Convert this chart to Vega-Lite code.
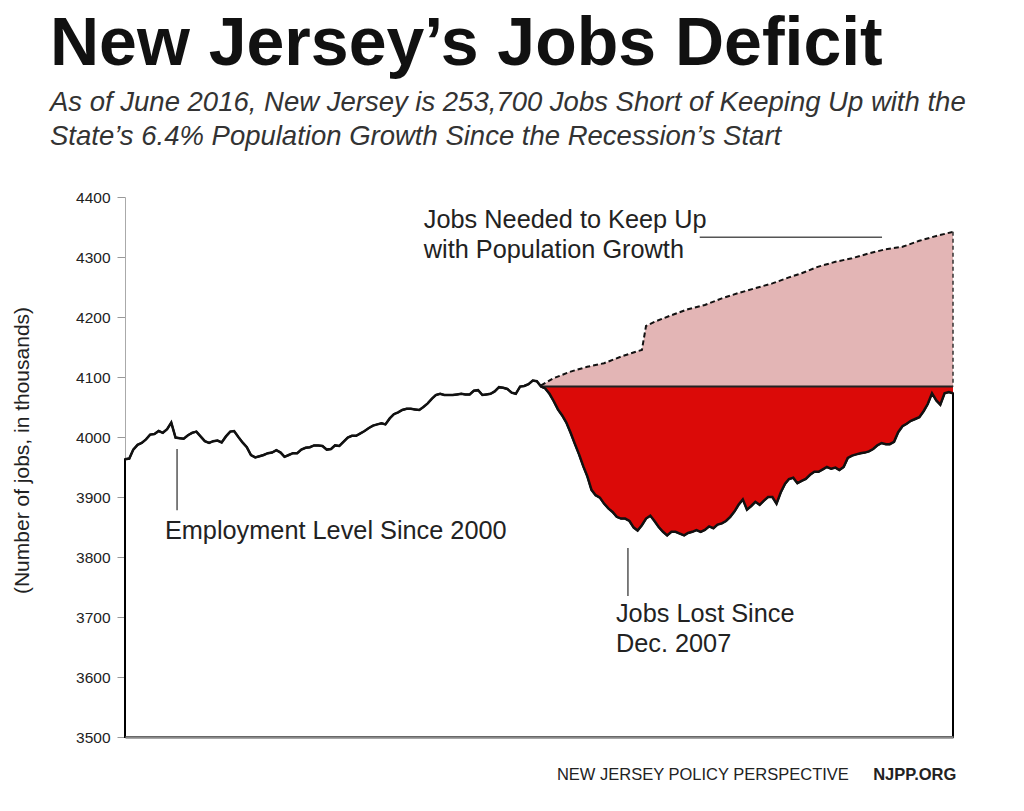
{
  "$schema": "https://vega.github.io/schema/vega-lite/v6.json",
  "autosize": "none",
  "width": 828,
  "height": 540,
  "padding": {"left": 125, "top": 197, "right": 71, "bottom": 74},
  "background": "white",
  "config": {"view": {"stroke": null}},
  "title": {
    "text": "New Jersey’s Jobs Deficit",
    "subtitle": ["As of June 2016, New Jersey is 253,700 Jobs Short of Keeping Up with the", "State’s 6.4% Population Growth Since the Recession’s Start"],
    "anchor": "start", "frame": "group", "dx": -75, "offset": 40,
    "font": "Liberation Sans", "fontSize": 68, "fontWeight": "bold", "color": "#111",
    "subtitleFont": "Liberation Sans", "subtitleFontSize": 27.5, "subtitleFontStyle": "italic",
    "subtitleColor": "#333", "subtitleLineHeight": 34, "subtitlePadding": 10
  },
  "datasets": {
    "employment": [
      {"date":"2000-01-01","jobs":3963},{"date":"2000-02-01","jobs":3964},{"date":"2000-03-01","jobs":3979},{"date":"2000-04-01","jobs":3987},{"date":"2000-05-01","jobs":3990},{"date":"2000-06-01","jobs":3996},{"date":"2000-07-01","jobs":4004},{"date":"2000-08-01","jobs":4005},{"date":"2000-09-01","jobs":4010},{"date":"2000-10-01","jobs":4007},{"date":"2000-11-01","jobs":4013},{"date":"2000-12-01","jobs":4024},
      {"date":"2001-01-01","jobs":3999},{"date":"2001-02-01","jobs":3998},{"date":"2001-03-01","jobs":3997},{"date":"2001-04-01","jobs":4003},{"date":"2001-05-01","jobs":4007},{"date":"2001-06-01","jobs":4009},{"date":"2001-07-01","jobs":4001},{"date":"2001-08-01","jobs":3993},{"date":"2001-09-01","jobs":3990},{"date":"2001-10-01","jobs":3993},{"date":"2001-11-01","jobs":3994},{"date":"2001-12-01","jobs":3991},
      {"date":"2002-01-01","jobs":4001},{"date":"2002-02-01","jobs":4009},{"date":"2002-03-01","jobs":4010},{"date":"2002-04-01","jobs":4000},{"date":"2002-05-01","jobs":3991},{"date":"2002-06-01","jobs":3983},{"date":"2002-07-01","jobs":3970},{"date":"2002-08-01","jobs":3966},{"date":"2002-09-01","jobs":3968},{"date":"2002-10-01","jobs":3970},{"date":"2002-11-01","jobs":3973},{"date":"2002-12-01","jobs":3974},
      {"date":"2003-01-01","jobs":3978},{"date":"2003-02-01","jobs":3974},{"date":"2003-03-01","jobs":3967},{"date":"2003-04-01","jobs":3970},{"date":"2003-05-01","jobs":3973},{"date":"2003-06-01","jobs":3973},{"date":"2003-07-01","jobs":3979},{"date":"2003-08-01","jobs":3982},{"date":"2003-09-01","jobs":3983},{"date":"2003-10-01","jobs":3986},{"date":"2003-11-01","jobs":3986},{"date":"2003-12-01","jobs":3985},
      {"date":"2004-01-01","jobs":3979},{"date":"2004-02-01","jobs":3980},{"date":"2004-03-01","jobs":3986},{"date":"2004-04-01","jobs":3985},{"date":"2004-05-01","jobs":3992},{"date":"2004-06-01","jobs":3999},{"date":"2004-07-01","jobs":4002},{"date":"2004-08-01","jobs":4002},{"date":"2004-09-01","jobs":4006},{"date":"2004-10-01","jobs":4010},{"date":"2004-11-01","jobs":4015},{"date":"2004-12-01","jobs":4019},
      {"date":"2005-01-01","jobs":4021},{"date":"2005-02-01","jobs":4023},{"date":"2005-03-01","jobs":4021},{"date":"2005-04-01","jobs":4031},{"date":"2005-05-01","jobs":4038},{"date":"2005-06-01","jobs":4041},{"date":"2005-07-01","jobs":4045},{"date":"2005-08-01","jobs":4047},{"date":"2005-09-01","jobs":4047},{"date":"2005-10-01","jobs":4046},{"date":"2005-11-01","jobs":4045},{"date":"2005-12-01","jobs":4050},
      {"date":"2006-01-01","jobs":4056},{"date":"2006-02-01","jobs":4064},{"date":"2006-03-01","jobs":4070},{"date":"2006-04-01","jobs":4072},{"date":"2006-05-01","jobs":4070},{"date":"2006-06-01","jobs":4070},{"date":"2006-07-01","jobs":4070},{"date":"2006-08-01","jobs":4071},{"date":"2006-09-01","jobs":4072},{"date":"2006-10-01","jobs":4071},{"date":"2006-11-01","jobs":4071},{"date":"2006-12-01","jobs":4077},
      {"date":"2007-01-01","jobs":4078},{"date":"2007-02-01","jobs":4070},{"date":"2007-03-01","jobs":4071},{"date":"2007-04-01","jobs":4072},{"date":"2007-05-01","jobs":4076},{"date":"2007-06-01","jobs":4083},{"date":"2007-07-01","jobs":4082},{"date":"2007-08-01","jobs":4080},{"date":"2007-09-01","jobs":4074},{"date":"2007-10-01","jobs":4072},{"date":"2007-11-01","jobs":4084},{"date":"2007-12-01","jobs":4085},
      {"date":"2008-01-01","jobs":4088},{"date":"2008-02-01","jobs":4094},{"date":"2008-03-01","jobs":4093},{"date":"2008-04-01","jobs":4084},{"date":"2008-05-01","jobs":4081},{"date":"2008-06-01","jobs":4072},{"date":"2008-07-01","jobs":4060},{"date":"2008-08-01","jobs":4046},{"date":"2008-09-01","jobs":4036},{"date":"2008-10-01","jobs":4024},{"date":"2008-11-01","jobs":4007},{"date":"2008-12-01","jobs":3989},
      {"date":"2009-01-01","jobs":3971},{"date":"2009-02-01","jobs":3951},{"date":"2009-03-01","jobs":3935},{"date":"2009-04-01","jobs":3912},{"date":"2009-05-01","jobs":3903},{"date":"2009-06-01","jobs":3899},{"date":"2009-07-01","jobs":3889},{"date":"2009-08-01","jobs":3881},{"date":"2009-09-01","jobs":3875},{"date":"2009-10-01","jobs":3867},{"date":"2009-11-01","jobs":3864},{"date":"2009-12-01","jobs":3864},
      {"date":"2010-01-01","jobs":3860},{"date":"2010-02-01","jobs":3849},{"date":"2010-03-01","jobs":3844},{"date":"2010-04-01","jobs":3853},{"date":"2010-05-01","jobs":3864},{"date":"2010-06-01","jobs":3869},{"date":"2010-07-01","jobs":3860},{"date":"2010-08-01","jobs":3850},{"date":"2010-09-01","jobs":3842},{"date":"2010-10-01","jobs":3836},{"date":"2010-11-01","jobs":3842},{"date":"2010-12-01","jobs":3842},
      {"date":"2011-01-01","jobs":3839},{"date":"2011-02-01","jobs":3836},{"date":"2011-03-01","jobs":3840},{"date":"2011-04-01","jobs":3842},{"date":"2011-05-01","jobs":3845},{"date":"2011-06-01","jobs":3842},{"date":"2011-07-01","jobs":3845},{"date":"2011-08-01","jobs":3851},{"date":"2011-09-01","jobs":3848},{"date":"2011-10-01","jobs":3854},{"date":"2011-11-01","jobs":3856},{"date":"2011-12-01","jobs":3860},
      {"date":"2012-01-01","jobs":3867},{"date":"2012-02-01","jobs":3876},{"date":"2012-03-01","jobs":3887},{"date":"2012-04-01","jobs":3896},{"date":"2012-05-01","jobs":3879},{"date":"2012-06-01","jobs":3885},{"date":"2012-07-01","jobs":3892},{"date":"2012-08-01","jobs":3887},{"date":"2012-09-01","jobs":3894},{"date":"2012-10-01","jobs":3900},{"date":"2012-11-01","jobs":3900},{"date":"2012-12-01","jobs":3889},
      {"date":"2013-01-01","jobs":3908},{"date":"2013-02-01","jobs":3922},{"date":"2013-03-01","jobs":3930},{"date":"2013-04-01","jobs":3932},{"date":"2013-05-01","jobs":3923},{"date":"2013-06-01","jobs":3927},{"date":"2013-07-01","jobs":3930},{"date":"2013-08-01","jobs":3937},{"date":"2013-09-01","jobs":3942},{"date":"2013-10-01","jobs":3942},{"date":"2013-11-01","jobs":3946},{"date":"2013-12-01","jobs":3950},
      {"date":"2014-01-01","jobs":3947},{"date":"2014-02-01","jobs":3949},{"date":"2014-03-01","jobs":3945},{"date":"2014-04-01","jobs":3950},{"date":"2014-05-01","jobs":3965},{"date":"2014-06-01","jobs":3969},{"date":"2014-07-01","jobs":3971},{"date":"2014-08-01","jobs":3973},{"date":"2014-09-01","jobs":3974},{"date":"2014-10-01","jobs":3976},{"date":"2014-11-01","jobs":3980},{"date":"2014-12-01","jobs":3986},
      {"date":"2015-01-01","jobs":3990},{"date":"2015-02-01","jobs":3988},{"date":"2015-03-01","jobs":3988},{"date":"2015-04-01","jobs":3992},{"date":"2015-05-01","jobs":4008},{"date":"2015-06-01","jobs":4018},{"date":"2015-07-01","jobs":4022},{"date":"2015-08-01","jobs":4027},{"date":"2015-09-01","jobs":4030},{"date":"2015-10-01","jobs":4033},{"date":"2015-11-01","jobs":4043},{"date":"2015-12-01","jobs":4055},
      {"date":"2016-01-01","jobs":4073},{"date":"2016-02-01","jobs":4061},{"date":"2016-03-01","jobs":4054},{"date":"2016-04-01","jobs":4073},{"date":"2016-05-01","jobs":4075},{"date":"2016-06-01","jobs":4073}
    ],
    "needed": [
      {"date":"2008-04-01","jobs":4086},{"date":"2008-07-01","jobs":4098},{"date":"2008-11-01","jobs":4109},{"date":"2009-03-01","jobs":4117},{"date":"2009-07-01","jobs":4123},{"date":"2009-11-01","jobs":4134},{"date":"2010-03-01","jobs":4143},{"date":"2010-04-01","jobs":4145},{"date":"2010-05-01","jobs":4185},{"date":"2010-07-01","jobs":4192},{"date":"2010-11-01","jobs":4203},{"date":"2011-03-01","jobs":4213},{"date":"2011-07-01","jobs":4220},{"date":"2011-11-01","jobs":4231},{"date":"2012-03-01","jobs":4240},{"date":"2012-07-01","jobs":4248},{"date":"2012-11-01","jobs":4256},{"date":"2013-03-01","jobs":4266},{"date":"2013-06-01","jobs":4273},{"date":"2013-10-01","jobs":4284},{"date":"2014-02-01","jobs":4292},{"date":"2014-06-01","jobs":4298},{"date":"2014-10-01","jobs":4306},{"date":"2015-02-01","jobs":4313},{"date":"2015-06-01","jobs":4317},{"date":"2015-10-01","jobs":4327},{"date":"2016-02-01","jobs":4335},{"date":"2016-06-01","jobs":4342}
    ],
    "leaders": [
      {"date":"2001-01-12","date2":"2001-01-12","jobs":3980,"jobs2":3878},
      {"date":"2009-12-21","date2":"2009-12-21","jobs":3815,"jobs2":3735},
      {"date":"2011-05-25","date2":"2015-01-04","jobs":4333,"jobs2":4333}
    ],
    "notes": [
      {"date":"2000-10-16","jobs":3830,"label":"Employment Level Since 2000"},
      {"date":"2009-09-25","jobs":3692,"label":"Jobs Lost Since"},
      {"date":"2009-09-25","jobs":3642,"label":"Dec. 2007"},
      {"date":"2005-12-04","jobs":4348,"label":"Jobs Needed to Keep Up"},
      {"date":"2005-12-04","jobs":4298,"label":"with Population Growth"}
    ],
    "credit": [{"date":"2008-07-25","jobs":3428,"label":"NEW JERSEY POLICY PERSPECTIVE"}],
    "site": [{"date":"2014-11-01","jobs":3428,"label":"NJPP.ORG"}]
  },
  "encoding": {
    "x": {
      "field": "date", "type": "temporal",
      "scale": {"type": "utc", "nice": false, "domain": [{"year": 2000, "month": 1, "date": 1, "utc": true}, {"year": 2016, "month": 6, "date": 1, "utc": true}]},
      "axis": {"labels": false, "ticks": false, "title": null, "grid": false, "domainColor": "#8a8a8a", "domainWidth": 2.5, "zindex": 1}
    },
    "y": {
      "field": "jobs", "type": "quantitative",
      "scale": {"domain": [3500, 4400], "zero": false, "nice": false},
      "axis": {
        "values": [3500, 3600, 3700, 3800, 3900, 4000, 4100, 4200, 4300, 4400],
        "format": "d", "grid": false,
        "labelFont": "Liberation Sans", "labelFontSize": 15.5, "labelColor": "#222", "labelPadding": 7,
        "tickColor": "#999", "tickSize": 8, "domainColor": "#aaa",
        "title": "(Number of jobs, in thousands)",
        "titleFont": "Liberation Sans", "titleFontSize": 21, "titleFontWeight": "normal", "titleColor": "#222",
        "titleX": -103, "titleY": 253, "titleAngle": -90, "titleAlign": "center", "titleBaseline": "middle"
      }
    }
  },
  "layer": [
    {"data": {"name": "employment"}, "mark": {"type": "area", "fill": "white", "stroke": "black", "strokeWidth": 2}, "encoding": {"y2": {"datum": 3500}}},
    {"data": {"name": "needed"}, "mark": {"type": "area", "fill": "#e3b5b5"}, "encoding": {"y2": {"datum": 4084}}},
    {"data": {"name": "employment"}, "transform": [{"filter": {"field": "date", "gte": {"year": 2008, "month": 4, "date": 1, "utc": true}}}],
     "mark": {"type": "area", "fill": "#db0a08"}, "encoding": {"y2": {"datum": 4084}}},
    {"data": {"name": "needed"}, "mark": {"type": "line", "color": "#222", "strokeWidth": 2}, "encoding": {"y": {"datum": 4084}}},
    {"data": {"name": "needed"}, "mark": {"type": "line", "color": "#111", "strokeWidth": 2, "strokeDash": [5, 3]}},
    {"data": {"name": "needed"}, "transform": [{"filter": {"field": "date", "gte": {"year": 2016, "month": 6, "date": 1, "utc": true}}}],
     "mark": {"type": "rule", "color": "#333", "strokeWidth": 1.5, "strokeDash": [4, 3]}, "encoding": {"y2": {"datum": 4084}}},
    {"data": {"name": "employment"}, "mark": {"type": "line", "color": "#111", "strokeWidth": 2.5}},
    {"data": {"name": "leaders"}, "mark": {"type": "rule", "color": "#555", "strokeWidth": 1.5},
     "encoding": {"x2": {"field": "date2"}, "y2": {"field": "jobs2"}}},
    {"data": {"name": "notes"}, "mark": {"type": "text", "align": "left", "baseline": "alphabetic", "font": "Liberation Sans", "fontSize": 25.3, "color": "#222"},
     "encoding": {"text": {"field": "label"}}},
    {"data": {"name": "credit"}, "mark": {"type": "text", "align": "left", "baseline": "alphabetic", "font": "Liberation Sans", "fontSize": 16.5, "color": "#222"},
     "encoding": {"text": {"field": "label"}}},
    {"data": {"name": "site"}, "mark": {"type": "text", "align": "left", "baseline": "alphabetic", "font": "Liberation Sans", "fontSize": 16.5, "fontWeight": "bold", "color": "#222"},
     "encoding": {"text": {"field": "label"}}}
  ]
}
